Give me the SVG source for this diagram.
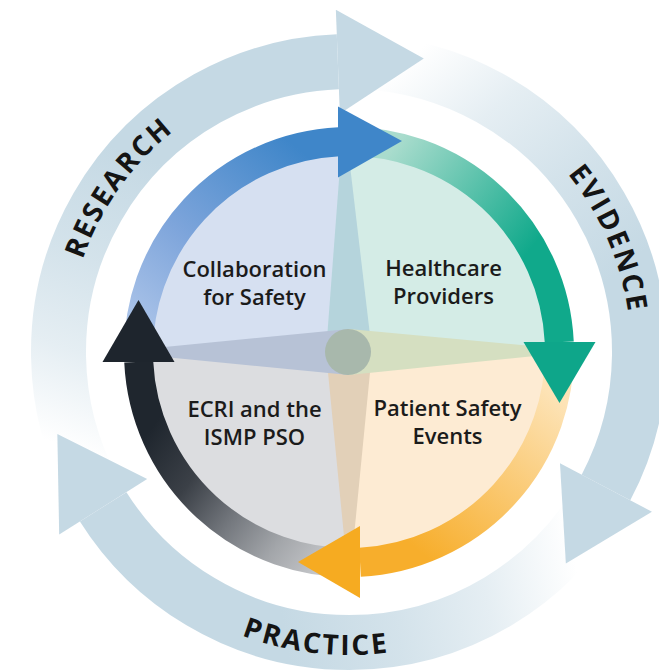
<svg xmlns="http://www.w3.org/2000/svg" width="659" height="672" viewBox="0 0 659 672">
  <defs>
    <style>
      .label { font-family: "Open Sans", "Noto Sans", "Liberation Sans", sans-serif; font-weight: 600; font-size: 22px; fill: #1b1b1b; text-anchor: middle; }
      .stage { font-family: "Open Sans", "Noto Sans", "Liberation Sans", sans-serif; font-weight: 700; font-size: 28px; fill: #141414; letter-spacing: 2.3px; }
      .band { fill: none; stroke-width: 29; }
      .ring { fill: none; stroke-width: 55; stroke: url(#ringFade); }
      .ring-head { fill: #c5d9e4; }
    </style>

    <!-- outer cycle: one arrow, repeated every 120 degrees -->
    <linearGradient id="ringFade" gradientUnits="userSpaceOnUse" x1="76" y1="451" x2="204" y2="100">
      <stop offset="0" stop-color="#c5d9e4" stop-opacity="0"/>
      <stop offset="0.25" stop-color="#c5d9e4" stop-opacity="0.45"/>
      <stop offset="0.5" stop-color="#c5d9e4" stop-opacity="0.75"/>
      <stop offset="0.8" stop-color="#c5d9e4" stop-opacity="1"/>
    </linearGradient>
    <path id="ringArc" d="M92.5,488.38 A290.5,290.5 0 0 1 337.85,61.71"/>
    <polygon id="ringHead" points="335.85,9.75 423.79,58.41 339.85,113.67"/>

    <!-- inner cycle band colours -->
    <linearGradient id="blueGrad" gradientUnits="userSpaceOnUse" x1="140" y1="345" x2="300" y2="150">
      <stop offset="0" stop-color="#b0c7ea"/>
      <stop offset="0.45" stop-color="#7ea5db"/>
      <stop offset="1" stop-color="#3f86c9"/>
    </linearGradient>
    <linearGradient id="greenGrad" gradientUnits="userSpaceOnUse" x1="395" y1="145" x2="530" y2="250">
      <stop offset="0" stop-color="#a9dccd"/>
      <stop offset="1" stop-color="#10a98b"/>
    </linearGradient>
    <linearGradient id="orangeGrad" gradientUnits="userSpaceOnUse" x1="560" y1="400" x2="430" y2="560">
      <stop offset="0" stop-color="#fde3b6"/>
      <stop offset="1" stop-color="#f7ae2c"/>
    </linearGradient>
    <linearGradient id="blackGrad" gradientUnits="userSpaceOnUse" x1="150" y1="430" x2="330" y2="565">
      <stop offset="0" stop-color="#1f262e"/>
      <stop offset="0.28" stop-color="#3b4047"/>
      <stop offset="0.53" stop-color="#74787e"/>
      <stop offset="0.76" stop-color="#a3a6aa"/>
      <stop offset="1" stop-color="#c8c9cc"/>
    </linearGradient>

    <!-- baselines for the curved stage names -->
    <path id="pResearch" d="M76.6,425 A282,282 0 0 1 329.3,70.7"/>
    <path id="pEvidence" d="M426.7,81 A282,282 0 0 1 600.3,480"/>
    <path id="pPractice" d="M94.9,517 A303,303 0 0 0 559.5,569.96"/>
  </defs>

  <rect width="659" height="672" fill="#ffffff"/>

  <!-- outer cycle: Research -> Evidence -> Practice -->
  <g id="outer-cycle">
    <use href="#ringArc" class="ring"/>
    <use href="#ringArc" class="ring" transform="rotate(120 349 352)"/>
    <use href="#ringArc" class="ring" transform="rotate(240 349 352)"/>
    <use href="#ringHead" class="ring-head"/>
    <use href="#ringHead" class="ring-head" transform="rotate(120 349 352)"/>
    <use href="#ringHead" class="ring-head" transform="rotate(240 349 352)"/>
    <text class="stage"><textPath href="#pResearch" startOffset="50%" text-anchor="middle">RESEARCH</textPath></text>
    <text class="stage"><textPath href="#pEvidence" startOffset="50%" text-anchor="middle">EVIDENCE</textPath></text>
    <text class="stage"><textPath href="#pPractice" startOffset="50%" text-anchor="middle">PRACTICE</textPath></text>
  </g>

  <!-- quadrants -->
  <g id="node-collaboration">
    <path d="M349,352 L138,352 A211,211 0 0 1 349,141 Z" fill="#d6e0f1"/>
    <text class="label" x="254.5" y="277">Collaboration</text>
    <text class="label" x="254.5" y="305">for Safety</text>
  </g>
  <g id="node-healthcare">
    <path d="M349,352 L349,141 A211,211 0 0 1 560,352 Z" fill="#d4ece6"/>
    <text class="label" x="443.5" y="276">Healthcare</text>
    <text class="label" x="443.5" y="304">Providers</text>
  </g>
  <g id="node-events">
    <path d="M349,352 L560,352 A211,211 0 0 1 349,563 Z" fill="#fdebd3"/>
    <text class="label" x="447.5" y="416">Patient Safety</text>
    <text class="label" x="447.5" y="444">Events</text>
  </g>
  <g id="node-ecri">
    <path d="M349,352 L349,563 A211,211 0 0 1 138,352 Z" fill="#dcdde0"/>
    <text class="label" x="254.5" y="417">ECRI and the</text>
    <text class="label" x="254.5" y="445">ISMP PSO</text>
  </g>

  <!-- compass divider between the quadrants -->
  <g id="divider">
    <polygon points="326,352 342,140 347,140 372,352" fill="#b5d4dc"/>
    <polygon points="326,352 372,352 351,567 347,567" fill="#e2d0b8"/>
    <polygon points="349,329 134,350 134,354 349,375" fill="#b7c2d6"/>
    <polygon points="349,329 564,349 564,353 349,375" fill="#d5dfc1"/>
    <circle cx="348" cy="352" r="23" fill="#a8b8ac"/>
  </g>

  <!-- inner cycle arrows -->
  <g id="connectors">
    <path class="band" stroke="url(#blueGrad)" d="M138.63,359.35 A210.5,210.5 0 0 1 339.08,141.73"/>
    <path class="band" stroke="url(#greenGrad)" d="M341.65,141.63 A210.5,210.5 0 0 1 559.27,342.08"/>
    <path class="band" stroke="url(#orangeGrad)" d="M559.37,344.65 A210.5,210.5 0 0 1 360.02,562.21"/>
    <path class="band" stroke="url(#blackGrad)" d="M356.35,562.37 A210.5,210.5 0 0 1 138.74,361.92"/>
    <polygon points="338,106.5 402,141 338,177.5" fill="#3f86c9"/>
    <polygon points="523.5,342 595.5,342 559.5,403" fill="#0ea68a"/>
    <polygon points="360,526 360,598 298,562" fill="#f6ab21"/>
    <polygon points="102.5,362 174.5,362 138.5,300" fill="#1e252d"/>
  </g>
</svg>
